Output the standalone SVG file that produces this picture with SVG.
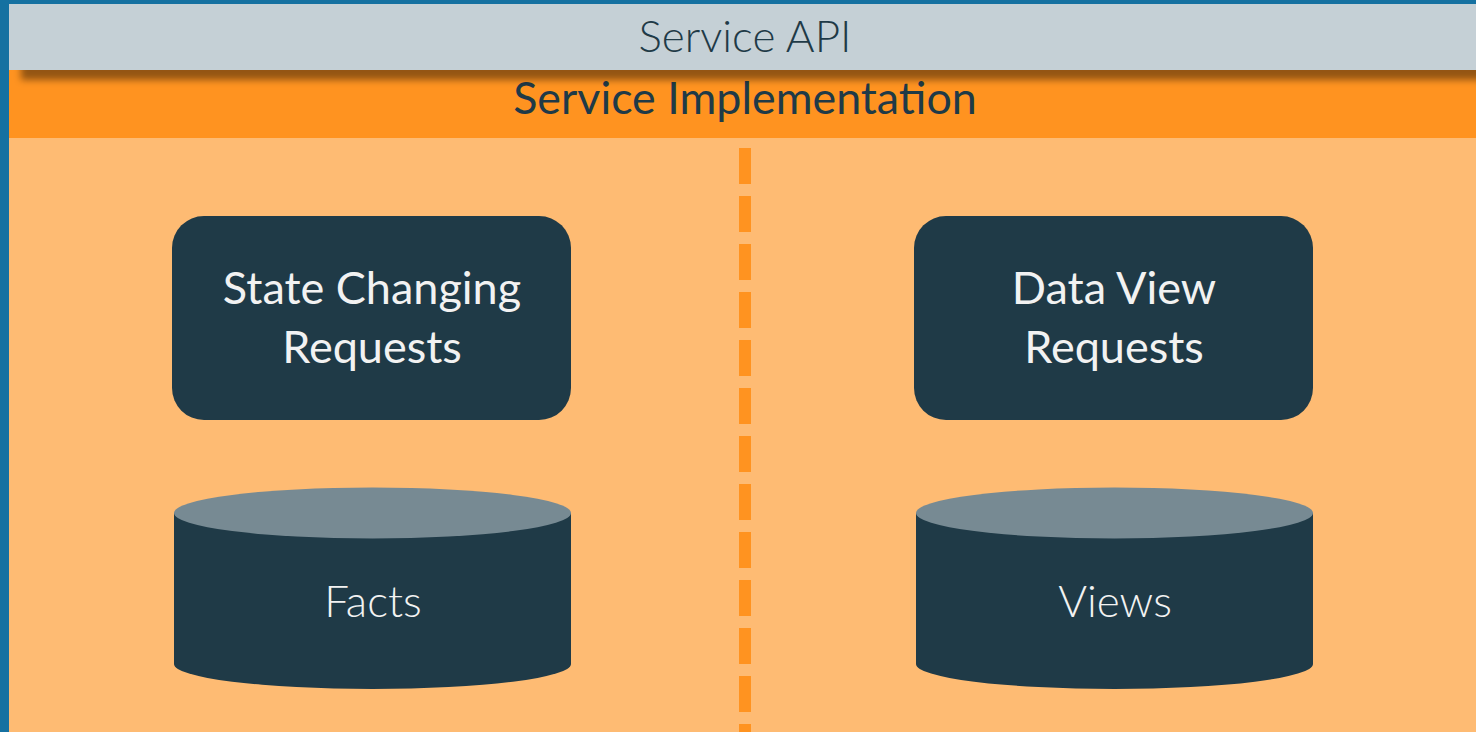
<svg xmlns="http://www.w3.org/2000/svg" width="1476" height="732" viewBox="0 0 1476 732">
  <defs>
    <filter id="barShadow" x="-5%" y="-50%" width="110%" height="200%">
      <feDropShadow dx="12" dy="10" stdDeviation="3.5" flood-color="#000" flood-opacity="0.42"/>
    </filter>
    <style>
      .title { font-family: Lato, "Noto Sans", sans-serif; fill: #1f3a47; text-anchor: middle; }
      .box { fill: #1f3a47; }
      .cyl-body { fill: #1f3a47; }
      .cyl-top { fill: #778a93; }
      .label { font-family: Lato, "Noto Sans", sans-serif; fill: #f2f2f2; text-anchor: middle; font-size: 45px; }
      .light { font-weight: 300; font-size: 44px; }
    </style>
  </defs>

  <!-- frame and panels -->
  <rect x="0" y="0" width="1476" height="732" fill="#1571a1"/>
  <rect x="9" y="138" width="1467" height="594" fill="#febb73"/>
  <rect x="9" y="70" width="1467" height="68" fill="#ff9320"/>
  <text class="title" x="745" y="114" font-size="44.8">Service Implementation</text>
  <rect x="9" y="4" width="1480" height="66" fill="#c5d0d6" filter="url(#barShadow)"/>
  <text class="title light" x="745" y="52">Service API</text>

  <!-- divider -->
  <g id="connectors">
    <line x1="745" y1="148" x2="745" y2="732" stroke="#ff9320" stroke-width="12" stroke-dasharray="36 12"/>
  </g>

  <g id="state-changing-requests">
    <rect class="box" x="172" y="216" width="399" height="204" rx="32"/>
    <text class="label" x="372" y="304">State Changing</text>
    <text class="label" x="372" y="363">Requests</text>
  </g>

  <g id="data-view-requests">
    <rect class="box" x="914" y="216" width="399" height="204" rx="32"/>
    <text class="label" x="1114" y="304">Data View</text>
    <text class="label" x="1114" y="363">Requests</text>
  </g>

  <g id="facts">
    <path class="cyl-body" d="M174 513 V664 A198.5 25 0 0 0 571 664 V513 Z"/>
    <ellipse class="cyl-top" cx="372.5" cy="513" rx="198.5" ry="25.5"/>
    <text class="label light" x="373" y="617">Facts</text>
  </g>

  <g id="views">
    <path class="cyl-body" d="M916 513 V664 A198.5 25 0 0 0 1313 664 V513 Z"/>
    <ellipse class="cyl-top" cx="1114.5" cy="513" rx="198.5" ry="25.5"/>
    <text class="label light" x="1115" y="617">Views</text>
  </g>
</svg>
